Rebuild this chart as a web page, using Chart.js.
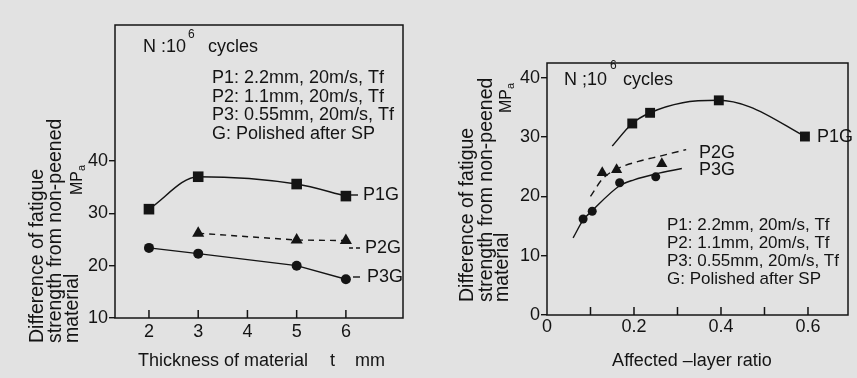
<!DOCTYPE html>
<html>
<head>
<meta charset="utf-8">
<script src="https://cdn.jsdelivr.net/npm/chart.js@4.4.1/dist/chart.umd.min.js"></script>
<style>
  html, body { margin: 0; padding: 0; background: #e2e2e2; }
  #wrap { position: relative; width: 857px; height: 378px; overflow: hidden; }
  canvas { position: absolute; top: 0; }
  #left { left: 0; }
  #right { left: 430px; }
</style>
</head>
<body>
<div id="wrap">
  <canvas id="left" width="430" height="378"></canvas>
  <canvas id="right" width="427" height="378"></canvas>
</div>
<script>
// left figure: gain in fatigue strength vs thickness (polished after SP)
const thickness = [2, 3, 5, 6];
const p1gThick = [30.8, 37.0, 35.6, 33.3];
const p2gThickX = [3, 5, 6];
const p2gThick = [26.2, 24.9, 24.8];
const p3gThick = [23.4, 22.3, 20.0, 17.4];
const leftYTicks = [10, 20, 30, 40];
const leftXTicks = [2, 3, 4, 5, 6];

// right figure: same quantity vs affected-layer ratio
const p1gRatioX = [0.196, 0.237, 0.395, 0.593];
const p1gRatio = [32.3, 34.1, 36.2, 30.1];
const p2gRatioX = [0.127, 0.16, 0.264];
const p2gRatio = [24.0, 24.5, 25.5];
const p3gRatioX = [0.083, 0.104, 0.167, 0.25];
const p3gRatio = [16.2, 17.5, 22.3, 23.3];
// hand-drawn trend curves
const p1gCurveX = [0.15, 0.196, 0.237, 0.312, 0.395, 0.466, 0.593];
const p1gCurve = [28.5, 32.3, 34.1, 35.8, 36.2, 35.1, 30.1];
const p2gCurveX = [0.1, 0.127, 0.16, 0.21, 0.26, 0.32];
const p2gCurve = [20.0, 22.9, 24.6, 25.9, 26.8, 27.9];
const p3gCurveX = [0.06, 0.083, 0.104, 0.167, 0.2, 0.25, 0.31];
const p3gCurve = [13.0, 16.0, 17.6, 21.8, 22.8, 23.8, 24.7];
const rightYTicks = [0, 10, 20, 30, 40];
const rightXLabels = [0, 0.2, 0.4, 0.6];
const rightXMarks = [0.1, 0.2, 0.3, 0.4, 0.5, 0.6];

const legendLines = ['P1: 2.2mm, 20m/s, Tf', 'P2: 1.1mm, 20m/s, Tf', 'P3: 0.55mm, 20m/s, Tf', 'G: Polished after SP'];
const yTitleLines = ['Difference of fatigue', 'strength from non-peened', 'material'];

const INK = '#141414';
const FAMILY = '"Liberation Sans", Arial, Helvetica, sans-serif';

const pts = (xs, ys) => xs.map((x, i) => ({ x, y: ys[i] }));

function txt(ctx, s, x, y, size, align) {
    ctx.font = size + 'px ' + FAMILY;
    ctx.textAlign = align || 'left';
    ctx.textBaseline = 'middle';
    ctx.fillText(s, x, y);
}

// box, inward x ticks and all the free text of each panel
const figurePlugin = {
    id: 'figure',
    beforeDatasetsDraw(chart, args, opts) {
        const ctx = chart.ctx;
        const a = chart.chartArea;
        ctx.save();
        ctx.strokeStyle = INK;
        ctx.lineWidth = 1.5;
        ctx.strokeRect(a.left, a.top, a.right - a.left, a.bottom - a.top);
        ctx.beginPath();
        opts.innerTicks.forEach(v => {
            const px = chart.scales.x.getPixelForValue(v);
            ctx.moveTo(px, a.bottom);
            ctx.lineTo(px, a.bottom - 8);
        });
        ctx.stroke();
        ctx.restore();
    },
    afterDraw(chart, args, opts) {
        const ctx = chart.ctx;
        ctx.save();
        ctx.fillStyle = INK;
        ctx.strokeStyle = INK;
        ctx.lineWidth = 1.4;

        opts.texts.forEach(t => txt(ctx, t.s, t.x, t.y, t.size || 18, t.align));

        (opts.leaders || []).forEach(l => {
            ctx.setLineDash(l.dash || []);
            ctx.beginPath();
            ctx.moveTo(l.x1, l.y);
            ctx.lineTo(l.x2, l.y);
            ctx.stroke();
        });
        ctx.setLineDash([]);

        const lg = opts.legend;
        legendLines.forEach((s, i) => txt(ctx, s, lg.x, lg.y + i * lg.step, lg.size));

        // rotated y title + unit
        const yt = opts.yTitle;
        yTitleLines.forEach((s, i) => {
            ctx.save();
            ctx.translate(yt.xs[i], yt.bottom);
            ctx.rotate(-Math.PI / 2);
            txt(ctx, s, 0, 0, 19.5);
            ctx.restore();
        });
        ctx.save();
        ctx.translate(yt.unitX, yt.unitBottom);
        ctx.rotate(-Math.PI / 2);
        txt(ctx, 'MP', 0, 0, 16);
        const w = ctx.measureText('MP').width;
        txt(ctx, 'a', w, 4, 11);
        ctx.restore();

        ctx.restore();
    }
};

const tickFont = { family: FAMILY, size: 18 };

function fixedTicks(list) {
    return s => { s.ticks = list.map(v => ({ value: v })); };
}

new Chart(document.getElementById('left'), {
    type: 'scatter',
    data: {
        datasets: [
            {
                data: pts(thickness, p1gThick), showLine: true, cubicInterpolationMode: 'monotone',
                borderColor: INK, backgroundColor: INK, borderWidth: 1.5,
                pointStyle: 'rect', pointRadius: 7.5, pointBorderWidth: 0
            },
            {
                data: pts(p2gThickX, p2gThick), showLine: true, borderDash: [6, 5],
                borderColor: INK, backgroundColor: INK, borderWidth: 1.4,
                pointStyle: 'triangle', pointRadius: 7, pointBorderWidth: 0
            },
            {
                data: pts(thickness, p3gThick), showLine: true,
                borderColor: INK, backgroundColor: INK, borderWidth: 1.4,
                pointStyle: 'circle', pointRadius: 5, pointBorderWidth: 0
            }
        ]
    },
    options: {
        responsive: false,
        animation: false,
        layout: { padding: { left: 0, right: 27, top: 25, bottom: 0 } },
        plugins: {
            legend: { display: false },
            tooltip: { enabled: false },
            figure: {
                innerTicks: leftXTicks,
                texts: [
                    { s: 'N :10', x: 143, y: 47 },
                    { s: '6', x: 188, y: 35, size: 12 },
                    { s: 'cycles', x: 208, y: 47 },
                    { s: 'P1G', x: 363, y: 195 },
                    { s: 'P2G', x: 365, y: 248 },
                    { s: 'P3G', x: 367, y: 277 },
                    { s: 'Thickness of material', x: 138, y: 361 },
                    { s: 't', x: 330, y: 361 },
                    { s: 'mm', x: 355, y: 361 }
                ],
                leaders: [
                    { x1: 351, x2: 358, y: 195 },
                    { x1: 349, x2: 362, y: 248, dash: [4, 3] },
                    { x1: 353, x2: 360, y: 277 }
                ],
                legend: { x: 212, y: 78, step: 18.7, size: 18 },
                yTitle: { xs: [38, 56, 73], bottom: 343, unitX: 78, unitBottom: 195 }
            }
        },
        scales: {
            x: {
                type: 'linear', min: 1.31, max: 7.16,
                afterBuildTicks: fixedTicks(leftXTicks),
                afterFit: s => { s.height = 60; },
                grid: { display: false, drawTicks: false },
                border: { display: false },
                ticks: { padding: 3, font: tickFont, color: INK, maxRotation: 0 }
            },
            y: {
                type: 'linear', min: 10, max: 66,
                afterBuildTicks: fixedTicks(leftYTicks),
                afterFit: s => { s.width = 115; },
                grid: { drawOnChartArea: false, drawTicks: true, tickLength: 6, color: INK, lineWidth: 1.4 },
                border: { display: false },
                ticks: { padding: 1, font: tickFont, color: INK }
            }
        }
    },
    plugins: [figurePlugin]
});

new Chart(document.getElementById('right'), {
    type: 'scatter',
    data: {
        datasets: [
            {
                data: pts(p1gCurveX, p1gCurve), showLine: true, cubicInterpolationMode: 'monotone',
                borderColor: INK, borderWidth: 1.5, pointRadius: 0
            },
            {
                data: pts(p2gCurveX, p2gCurve), showLine: true, cubicInterpolationMode: 'monotone',
                borderColor: INK, borderWidth: 1.4, borderDash: [7, 5], pointRadius: 0
            },
            {
                data: pts(p3gCurveX, p3gCurve), showLine: true, cubicInterpolationMode: 'monotone',
                borderColor: INK, borderWidth: 1.4, pointRadius: 0
            },
            {
                data: pts(p1gRatioX, p1gRatio), backgroundColor: INK,
                pointStyle: 'rect', pointRadius: 7, pointBorderWidth: 0
            },
            {
                data: pts(p2gRatioX, p2gRatio), backgroundColor: INK,
                pointStyle: 'triangle', pointRadius: 6.5, pointBorderWidth: 0
            },
            {
                data: pts(p3gRatioX, p3gRatio), backgroundColor: INK,
                pointStyle: 'circle', pointRadius: 4.5, pointBorderWidth: 0
            }
        ]
    },
    options: {
        responsive: false,
        animation: false,
        layout: { padding: { left: 0, right: 9, top: 63, bottom: 0 } },
        plugins: {
            legend: { display: false },
            tooltip: { enabled: false },
            figure: {
                innerTicks: rightXMarks,
                texts: [
                    { s: 'N ;10', x: 134, y: 80 },
                    { s: '6', x: 180, y: 66, size: 12 },
                    { s: 'cycles', x: 193, y: 80 },
                    { s: 'P1G', x: 387, y: 137 },
                    { s: 'P2G', x: 269, y: 153 },
                    { s: 'P3G', x: 269, y: 170 },
                    { s: 'Affected \u2013layer ratio', x: 262, y: 361, align: 'center' }
                ],
                legend: { x: 237, y: 225, step: 18, size: 17 },
                yTitle: { xs: [38, 57, 73], bottom: 302, unitX: 77, unitBottom: 113 }
            }
        },
        scales: {
            x: {
                type: 'linear', min: 0, max: 0.692,
                afterBuildTicks: fixedTicks(rightXLabels),
                afterFit: s => { s.height = 63; },
                grid: { display: false, drawTicks: false },
                border: { display: false },
                ticks: { padding: 1, font: tickFont, color: INK, maxRotation: 0 }
            },
            y: {
                type: 'linear', min: 0, max: 42.5,
                afterBuildTicks: fixedTicks(rightYTicks),
                afterFit: s => { s.width = 117; },
                grid: { drawOnChartArea: false, drawTicks: true, tickLength: 6, color: INK, lineWidth: 1.4 },
                border: { display: false },
                ticks: { padding: 1, font: tickFont, color: INK }
            }
        }
    },
    plugins: [figurePlugin]
});
</script>
</body>
</html>
